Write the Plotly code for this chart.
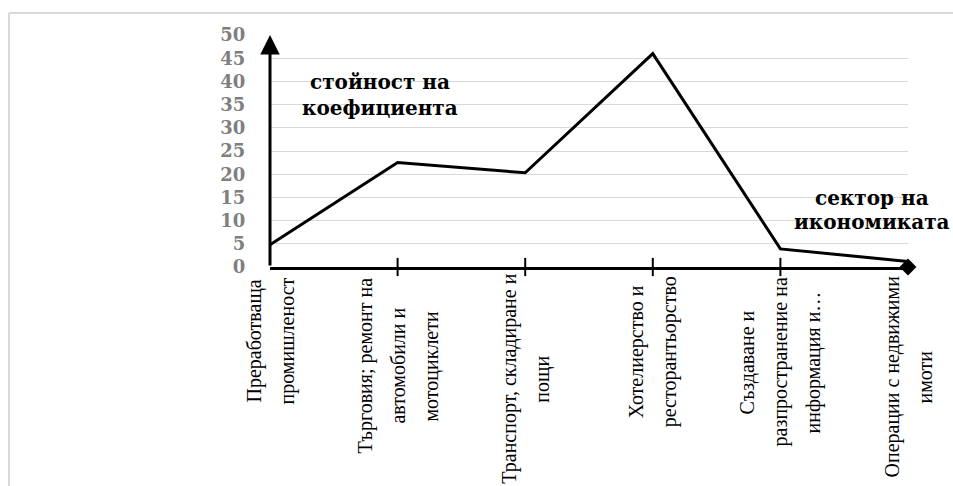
import plotly.graph_objects as go

# Sectors of the economy (category axis) and the coefficient value for each
sector_lines = [
    ["Преработваща", "промишленост"],
    ["Търговия; ремонт на", "автомобили и", "мотоциклети"],
    ["Транспорт, складиране и", "пощи"],
    ["Хотелиерство и", "ресторантьорство"],
    ["Създаване и", "разпространение на", "информация и…"],
    ["Операции с недвижими", "имоти"],
]
sectors = [" ".join(parts) for parts in sector_lines]
coefficient = [4.8, 22.5, 20.3, 46.0, 3.9, 1.2]
y_ticks = [0, 5, 10, 15, 20, 25, 30, 35, 40, 45, 50]

W, H = 953, 486
M_L, M_R, M_T, M_B = 270, 45, 35, 219
PLOT_H = H - M_T - M_B


def py(px):
    """Pixel row -> paper y."""
    return (H - M_B - px) / PLOT_H


def pxx(px):
    """Pixel column -> paper x."""
    return (px - M_L) / (W - M_L - M_R)


idx = list(range(len(sectors)))

fig = go.Figure()

fig.add_trace(go.Scatter(
    x=idx, y=coefficient, mode="lines",
    line=dict(color="black", width=3),
    hoverinfo="skip", showlegend=False,
))

# cross tick marks on the category axis
fig.add_trace(go.Scatter(
    x=idx[1:-1], y=[0] * (len(idx) - 2), mode="markers",
    marker=dict(symbol="line-ns", size=13, line=dict(width=2, color="black")),
    hoverinfo="skip", showlegend=False, cliponaxis=False,
))

# diamond end of the category axis
fig.add_trace(go.Scatter(
    x=[idx[-1]], y=[0], mode="markers",
    marker=dict(symbol="diamond", size=13, color="black"),
    hoverinfo="skip", showlegend=False, cliponaxis=False,
))

annotations = []

# value axis drawn as an upward arrow
annotations.append(dict(
    x=0, y=y_ticks[-1], xref="x", yref="y",
    ax=0, ay=y_ticks[0], axref="x", ayref="y",
    showarrow=True, arrowhead=2, arrowsize=1.3, arrowwidth=3,
    arrowcolor="black", text="", standoff=0,
))

title_font = dict(family="DejaVu Serif", size=20, color="black", weight="bold")
annotations.append(dict(
    x=pxx(380), y=py(82), xref="paper", yref="paper",
    text="стойност на", showarrow=False, font=title_font,
    xanchor="center", yanchor="middle",
))
annotations.append(dict(
    x=pxx(380), y=py(108), xref="paper", yref="paper",
    text="коефициента", showarrow=False, font=title_font,
    xanchor="center", yanchor="middle",
))
annotations.append(dict(
    x=pxx(872), y=py(198), xref="paper", yref="paper",
    text="сектор на", showarrow=False, font=title_font,
    xanchor="center", yanchor="middle",
))
annotations.append(dict(
    x=pxx(872), y=py(222), xref="paper", yref="paper",
    text="икономиката", showarrow=False, font=title_font,
    xanchor="center", yanchor="middle",
))

# rotated category labels, one annotation per text line
label_font = dict(family="Liberation Serif", size=20, color="black")
label_mid_px = [341, 366, 379, 352, 362, 377]
line_gap = 33
for i, parts in enumerate(sector_lines):
    n = len(parts)
    for j, part in enumerate(parts):
        annotations.append(dict(
            x=i, y=py(label_mid_px[i]), xref="x", yref="paper",
            text=part, showarrow=False, textangle=-90, font=label_font,
            xanchor="center", yanchor="middle",
            xshift=(j - (n - 1) / 2) * line_gap,
        ))

# light frame along the top and left edges
shapes = [
    dict(type="line", xref="paper", yref="paper",
         x0=pxx(9), x1=pxx(W + 5), y0=py(13), y1=py(13),
         line=dict(color="#d9d9d9", width=2)),
    dict(type="line", xref="paper", yref="paper",
         x0=pxx(9), x1=pxx(9), y0=py(13), y1=py(H + 5),
         line=dict(color="#d9d9d9", width=2)),
]

fig.update_layout(
    width=W, height=H,
    margin=dict(l=M_L, r=M_R, t=M_T, b=M_B, pad=0),
    paper_bgcolor="white", plot_bgcolor="white",
    annotations=annotations, shapes=shapes,
    xaxis=dict(
        range=[0, len(sectors) - 1], tickvals=idx, ticktext=sectors,
        showticklabels=False, showgrid=False, zeroline=False,
        showline=True, linecolor="black", linewidth=3, ticks="",
    ),
    yaxis=dict(
        range=[0, 50], tickvals=y_ticks,
        showgrid=True, gridcolor="#d9d9d9", gridwidth=1,
        zeroline=False, showline=False,
        ticks="outside", ticklen=20, tickcolor="rgba(0,0,0,0)",
        tickfont=dict(family="DejaVu Serif", size=18, color="#7f7f7f", weight="bold"),
    ),
)

fig.write_html("out.html")
